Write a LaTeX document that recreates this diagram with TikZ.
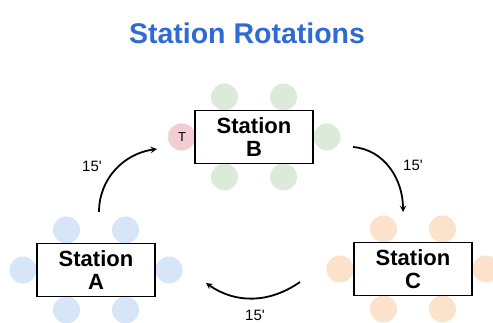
\documentclass[tikz,border=0pt]{standalone}
\usepackage{fontspec}
\setmainfont{Liberation Sans}
\usepackage{xcolor}
\definecolor{titleblue}{HTML}{2F6BD0}
\definecolor{seatblue}{HTML}{D6E5F8}
\definecolor{seatgreen}{HTML}{DCEBD9}
\definecolor{seatorange}{HTML}{FDE2CB}
\definecolor{seatpink}{HTML}{F4CDD4}

\begin{document}
\begin{tikzpicture}[x=1pt,y=1pt,
	station/.style={draw,fill=white,line width=1.3pt,minimum width=118pt,minimum height=53pt,
		inner sep=0pt,align=center,font=\bfseries\fontsize{22}{23}\selectfont},
	rotation/.style={line width=1.8pt,-stealth},
	minutes/.style={font=\fontsize{15}{16}\selectfont},
	seat/.style={circle,inner sep=0pt,minimum size=27pt}]
	
	\useasboundingbox (0,0) rectangle (493,323);
	
	% Define the title
	\node[font=\bfseries\fontsize{28.5}{30}\selectfont,text=titleblue] (title) at (247,290) {Station Rotations};
	
	% Draw the seats round each table
	\foreach \cx/\cy/\col in {96/53/seatblue,254/186/seatgreen,413/54/seatorange}{
		\foreach \dx/\dy in {-29.5/40,29.5/40,-73/0,73/0,-29.5/-40,29.5/-40}{
			\fill[\col] (\cx+\dx,\cy+\dy) circle (13.5);
		}
	}
	\node[seat,fill=seatpink,font=\fontsize{13}{14}\selectfont] (teacher) at (182,186) {T};
	
	% Draw the stations
	\node[station] (stA) at (96,53) {Station\\A};
	\node[station] (stB) at (254,186) {Station\\B};
	\node[station] (stC) at (413,54) {Station\\C};
	
	% Draw the rotations
	\coordinate (ab1) at (99,111);
	\coordinate (ab2) at (157,174);
	\coordinate (bc1) at (353,176);
	\coordinate (bc2) at (403,111);
	\coordinate (ca1) at (300,41);
	\coordinate (ca2) at (206,40);
	\draw[rotation] (ab1) to[out=90,in=188] (ab2);
	\draw[rotation] (bc1) to[out=-5,in=90] (bc2);
	\draw[rotation] (ca1) to[out=215,in=-35] (ca2);
	
	% Label the times
	\node[minutes] (tAB) at (92,157) {15\textquotesingle};
	\node[minutes] (tBC) at (413,158) {15\textquotesingle};
	\node[minutes] (tCA) at (255,8) {15\textquotesingle};
	
\end{tikzpicture}
\end{document}
